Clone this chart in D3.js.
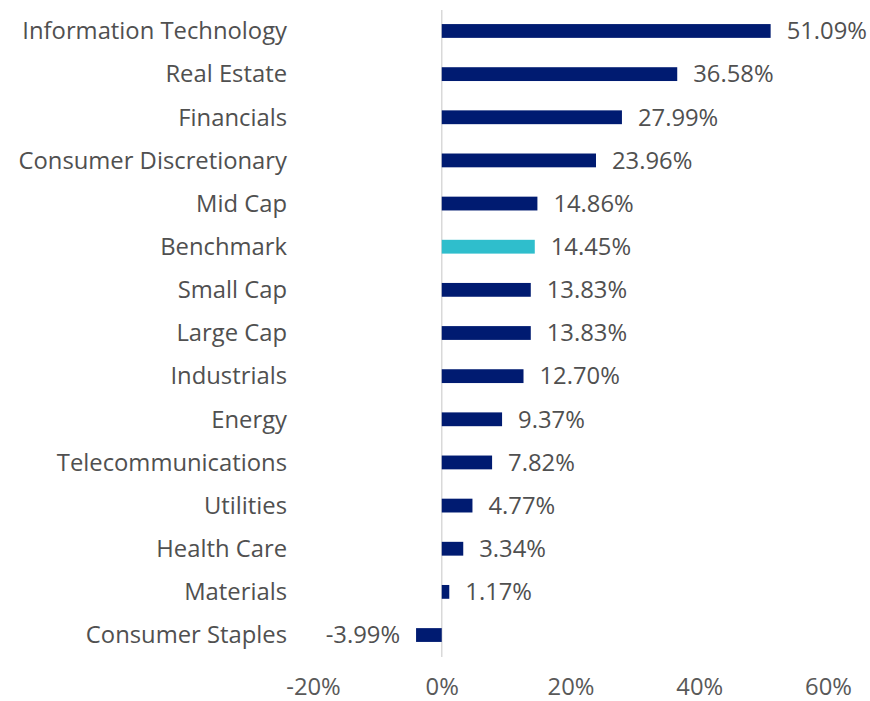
<!DOCTYPE html>
<html><head><meta charset="utf-8">
<script src="https://cdn.jsdelivr.net/npm/d3@7"></script>
<style>body{margin:0;background:#fff}svg{display:block}</style>
</head><body>
<script>
const categories = ["Information Technology","Real Estate","Financials","Consumer Discretionary","Mid Cap","Benchmark","Small Cap","Large Cap","Industrials","Energy","Telecommunications","Utilities","Health Care","Materials","Consumer Staples"];
const values = [51.09,36.58,27.99,23.96,14.86,14.45,13.83,13.83,12.70,9.37,7.82,4.77,3.34,1.17,-3.99];
const tickValues = [-20,0,20,40,60];
const highlight = "Benchmark";

const W = 870, H = 701;
const svg = d3.select("body").append("svg").attr("width", W).attr("height", H);
const font = "'Open Sans', sans-serif";
const fs = 23.8;
const textColor = "#505050";

const x = d3.scaleLinear().domain([-20, 60]).range([313, 828]);
const y = d3.scaleBand().domain(categories).range([9.4, 656.6]).paddingInner(0.68).paddingOuter(0.34);

// zero line
svg.append("line").attr("x1", x(0)).attr("x2", x(0)).attr("y1", 10).attr("y2", 657)
  .attr("stroke", "#d9d9d9").attr("stroke-width", 1.5);

const data = categories.map((c, i) => ({c, v: values[i]}));

svg.selectAll("rect.bar").data(data).join("rect")
  .attr("class", "bar")
  .attr("x", d => x(Math.min(0, d.v)))
  .attr("width", d => Math.abs(x(d.v) - x(0)))
  .attr("y", d => y(d.c))
  .attr("height", y.bandwidth())
  .attr("fill", d => d.c === highlight ? "#2fbecc" : "#001b71");

// value labels
svg.selectAll("text.val").data(data).join("text")
  .attr("class", "val")
  .attr("x", d => d.v >= 0 ? x(d.v) + 16 : x(d.v) - 16)
  .attr("y", d => y(d.c) + y.bandwidth() / 2 + 8.3)
  .attr("text-anchor", d => d.v >= 0 ? "start" : "end")
  .attr("font-family", font).attr("font-size", fs).attr("fill", textColor)
  .text(d => d.v.toFixed(2) + "%");

// category labels
svg.selectAll("text.cat").data(data).join("text")
  .attr("class", "cat")
  .attr("x", 287)
  .attr("y", d => y(d.c) + y.bandwidth() / 2 + 8.3)
  .attr("text-anchor", "end")
  .attr("font-family", font).attr("font-size", fs).attr("fill", textColor)
  .text(d => d.c);

// x axis
const xAxis = d3.axisBottom(x).tickValues(tickValues).tickFormat(d => d + "%").tickSize(0).tickPadding(0);
const g = svg.append("g").attr("transform", "translate(0,687)").call(xAxis);
g.select(".domain").remove();
g.selectAll("text").attr("font-family", font).attr("font-size", fs).attr("fill", "#595959").attr("dy", "0.32em");
</script>
</body></html>
